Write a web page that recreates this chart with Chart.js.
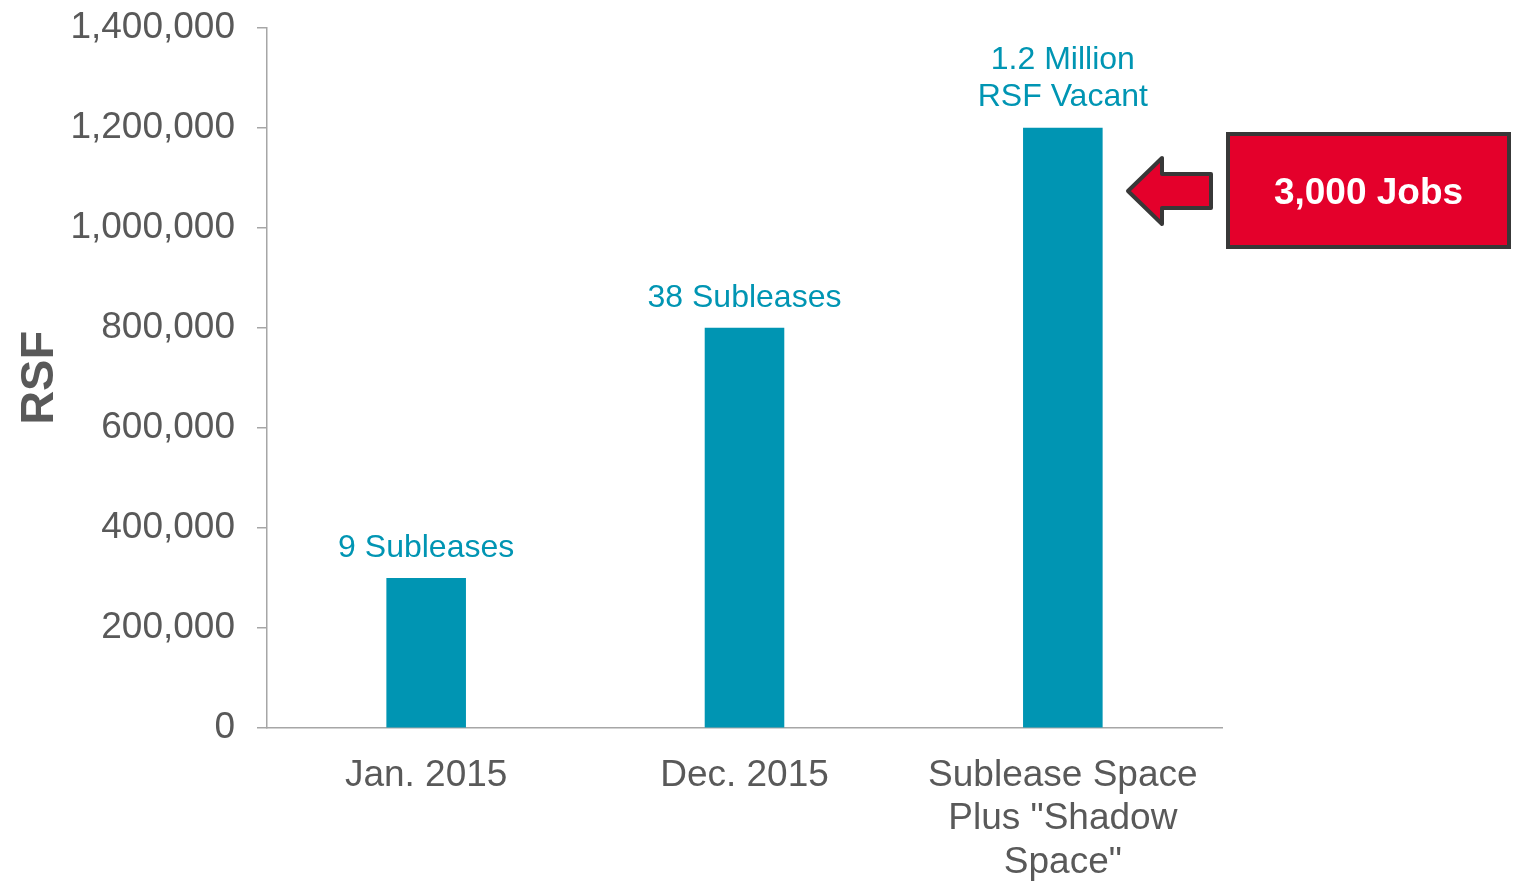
<!DOCTYPE html>
<html>
<head>
<meta charset="utf-8">
<script src="https://cdn.jsdelivr.net/npm/chart.js@4/dist/chart.umd.min.js"></script>
<style>
  html, body { margin: 0; padding: 0; background: #fff; }
  #wrap { width: 1516px; height: 881px; position: relative; }
</style>
</head>
<body>
<div id="wrap"><canvas id="rsfChart"></canvas></div>
<script>
'use strict';
// sublease space data
const categories = ['Jan. 2015', 'Dec. 2015', ['Sublease Space', 'Plus "Shadow', 'Space"']];
const rsfValues = [300000, 800000, 1200000];
const barLabels = [['9 Subleases'], ['38 Subleases'], ['1.2 Million', 'RSF Vacant']];
const calloutText = '3,000 Jobs';

const teal = '#0095B3';
const grey = '#595959';
const axisGrey = '#A6A6A6';
const red = '#E4002B';
const dark = '#383838';

// text over each bar
const barTextPlugin = {
  id: 'barText',
  afterDatasetsDraw(chart) {
    const ctx = chart.ctx;
    const meta = chart.getDatasetMeta(0);
    ctx.save();
    ctx.font = '32px "Liberation Sans", Arial, sans-serif';
    ctx.fillStyle = teal;
    ctx.textAlign = 'center';
    ctx.textBaseline = 'middle';
    meta.data.forEach((bar, i) => {
      const lines = barLabels[i];
      const lh = 37;
      lines.forEach((line, j) => {
        const y = bar.y - 30 - (lines.length - 1 - j) * lh;
        ctx.fillText(line, bar.x, y);
      });
    });
    ctx.restore();
  }
};

// red arrow + jobs box to the right of the plot
const calloutPlugin = {
  id: 'callout',
  afterDraw(chart) {
    const ctx = chart.ctx;
    const area = chart.chartArea;
    const x0 = area.right;
    const yc = 191;
    ctx.save();
    ctx.lineWidth = 4;
    ctx.strokeStyle = dark;
    ctx.fillStyle = red;
    ctx.lineJoin = 'round';

    // arrow pointing left
    const tip = x0 - 94;
    ctx.beginPath();
    ctx.moveTo(tip, yc);
    ctx.lineTo(tip + 34, yc - 33);
    ctx.lineTo(tip + 34, yc - 17);
    ctx.lineTo(tip + 83, yc - 17);
    ctx.lineTo(tip + 83, yc + 17);
    ctx.lineTo(tip + 34, yc + 17);
    ctx.lineTo(tip + 34, yc + 33);
    ctx.closePath();
    ctx.fill();
    ctx.stroke();

    // box
    const bx = x0 + 6, by = 134, bw = 281, bh = 113;
    ctx.lineJoin = 'miter';
    ctx.fillRect(bx, by, bw, bh);
    ctx.strokeRect(bx, by, bw, bh);

    ctx.fillStyle = '#fff';
    ctx.font = 'bold 37px "Liberation Sans", Arial, sans-serif';
    ctx.textAlign = 'center';
    ctx.textBaseline = 'middle';
    ctx.fillText(calloutText, bx + bw / 2, by + bh / 2 + 3);
    ctx.restore();
  }
};

const ctx = document.getElementById('rsfChart').getContext('2d');
const chart = new Chart(ctx, {
  type: 'bar',
  data: {
    labels: categories,
    datasets: [{
      data: rsfValues,
      backgroundColor: teal,
      barPercentage: 0.25,
      categoryPercentage: 1
    }]
  },
  options: {
    responsive: true,
    maintainAspectRatio: false,
    animation: false,
    layout: { padding: { left: 12, right: 294, top: 23, bottom: -21 } },
    plugins: {
      legend: { display: false },
      tooltip: { enabled: false }
    },
    scales: {
      x: {
        grid: { display: false },
        border: { color: axisGrey, width: 1.5 },
        ticks: {
          color: grey,
          padding: 18,
          maxRotation: 0,
          autoSkip: false,
          font: { family: '"Liberation Sans", Arial, sans-serif', size: 37, lineHeight: 1.17 }
        }
      },
      y: {
        min: 0,
        max: 1400000,
        ticks: {
          stepSize: 200000,
          color: grey,
          padding: 22,
          font: { family: '"Liberation Sans", Arial, sans-serif', size: 37, lineHeight: 0.3 },
          callback: v => v.toLocaleString('en-US')
        },
        grid: { drawOnChartArea: false, drawTicks: true, tickLength: 10, color: axisGrey, lineWidth: 1.5 },
        border: { color: axisGrey, width: 1.5 },
        title: {
          display: true,
          text: 'RSF',
          color: grey,
          padding: { top: 0, bottom: 14 },
          font: { family: '"Liberation Sans", Arial, sans-serif', size: 47, weight: 'bold' }
        },
        afterFit(scale) { scale.width = 255; }
      }
    }
  },
  plugins: [barTextPlugin, calloutPlugin]
});
</script>
</body>
</html>
